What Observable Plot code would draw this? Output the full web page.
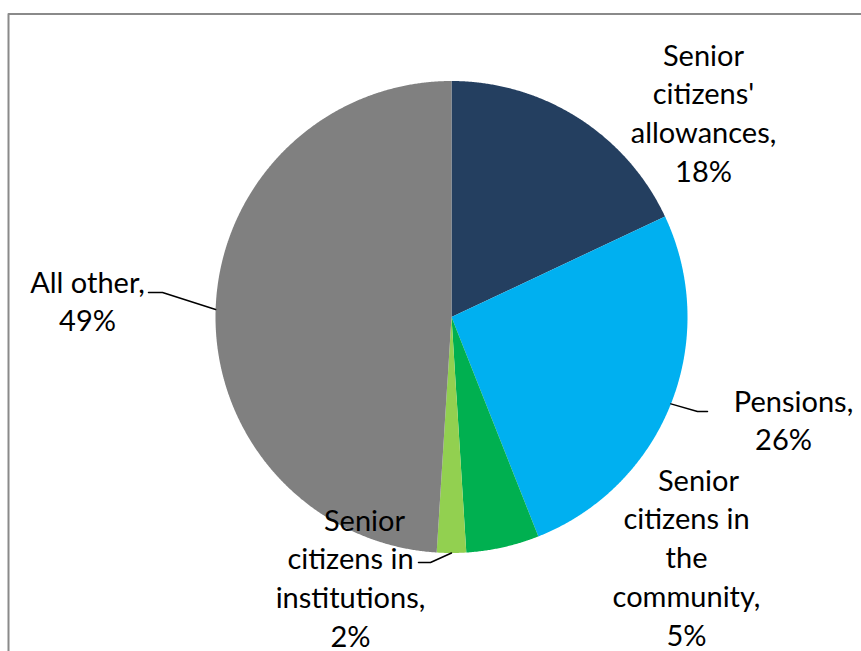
<!DOCTYPE html>
<html><head><meta charset="utf-8">
<script src="https://cdn.jsdelivr.net/npm/d3@7"></script>
<script src="https://cdn.jsdelivr.net/npm/@observablehq/plot@0.6"></script>
<style>body{margin:0;background:#fff}</style>
</head><body><div id="chart"></div>
<script>
// ---- data ----
const categories = ["Senior citizens' allowances", "Pensions", "Senior citizens in the community", "Senior citizens in institutions", "All other"];
const values = [18, 26, 5, 2, 49];
const labelLines = [
  ["Senior", "citizens'", "allowances,", "18%"],
  ["Pensions,", "26%"],
  ["Senior", "citizens in", "the", "community,", "5%"],
  ["Senior", "citizens in", "institutions,", "2%"],
  ["All other,", "49%"]
];
const colors = ["#243F60", "#00B0F0", "#00B050", "#92D050", "#808080"];

// ---- layout ----
const W = 861, H = 651;
const cx = 451, cy = 316.5, R = 236;
const fontSize = 29, lineGap = 38.8;
const labelAnchor = [[703, 65], [789, 411], [686, 490], [350, 530], [87, 292]]; // center x, first baseline
const lineShift = [[0, 0, 0, 0], [4, -6], [12, 0, 0, 0, 0], [14, 0, 0, 0], [0, 0]];
const leaderHook = [null, [[707, 411], [697, 411]], null, [[418, 562], [430, 562]], [[148, 292], [162, 292]]];

const total = d3.sum(values);
const slices = [];
const polys = [];
let acc = 0;
values.forEach((v, i) => {
  const a0 = acc / total * 2 * Math.PI;
  acc += v;
  const a1 = acc / total * 2 * Math.PI;
  slices.push({cat: categories[i], a0, a1, mid: (a0 + a1) / 2});
  polys.push({cat: categories[i], x: cx, y: cy});
  const n = Math.max(2, Math.ceil((a1 - a0) / 0.005));
  for (let k = 0; k <= n; k++) {
    const a = a0 + (a1 - a0) * k / n;
    polys.push({cat: categories[i], x: cx + R * Math.sin(a), y: cy - R * Math.cos(a)});
  }
});

const textData = [];
labelLines.forEach((lines, i) => {
  lines.forEach((t, j) => {
    textData.push({text: t, x: labelAnchor[i][0] + lineShift[i][j], y: labelAnchor[i][1] + j * lineGap - 0.32 * fontSize});
  });
});

const leaderData = [];
leaderHook.forEach((hook, i) => {
  if (!hook) return;
  const s = slices[i];
  leaderData.push({id: i, x: hook[0][0], y: hook[0][1]});
  leaderData.push({id: i, x: hook[1][0], y: hook[1][1]});
  leaderData.push({id: i, x: cx + R * Math.sin(s.mid), y: cy - R * Math.cos(s.mid)});
});

const border = [{x: 8, y: H}, {x: 8, y: 13.5}, {x: W, y: 13.5}];

const chart = Plot.plot({
  width: W, height: H,
  margin: 0,
  x: {domain: [0, W], range: [0, W], axis: null},
  y: {domain: [0, H], range: [0, H], axis: null},
  color: {domain: categories, range: colors},
  style: {background: "white"},
  marks: [
    Plot.line(border, {x: "x", y: "y", stroke: "#8a8a8a", strokeWidth: 2}),
    Plot.line(polys, {x: "x", y: "y", z: "cat", fill: "cat", stroke: null, curve: "linear-closed"}),
    Plot.line(leaderData, {x: "x", y: "y", z: "id", stroke: "black", strokeWidth: 1.5}),
    Plot.text(textData, {x: "x", y: "y", text: "text", fontSize: fontSize, fontFamily: "Lato", fill: "black", textAnchor: "middle"})
  ]
});
document.getElementById("chart").appendChild(chart);
</script>
</body></html>
